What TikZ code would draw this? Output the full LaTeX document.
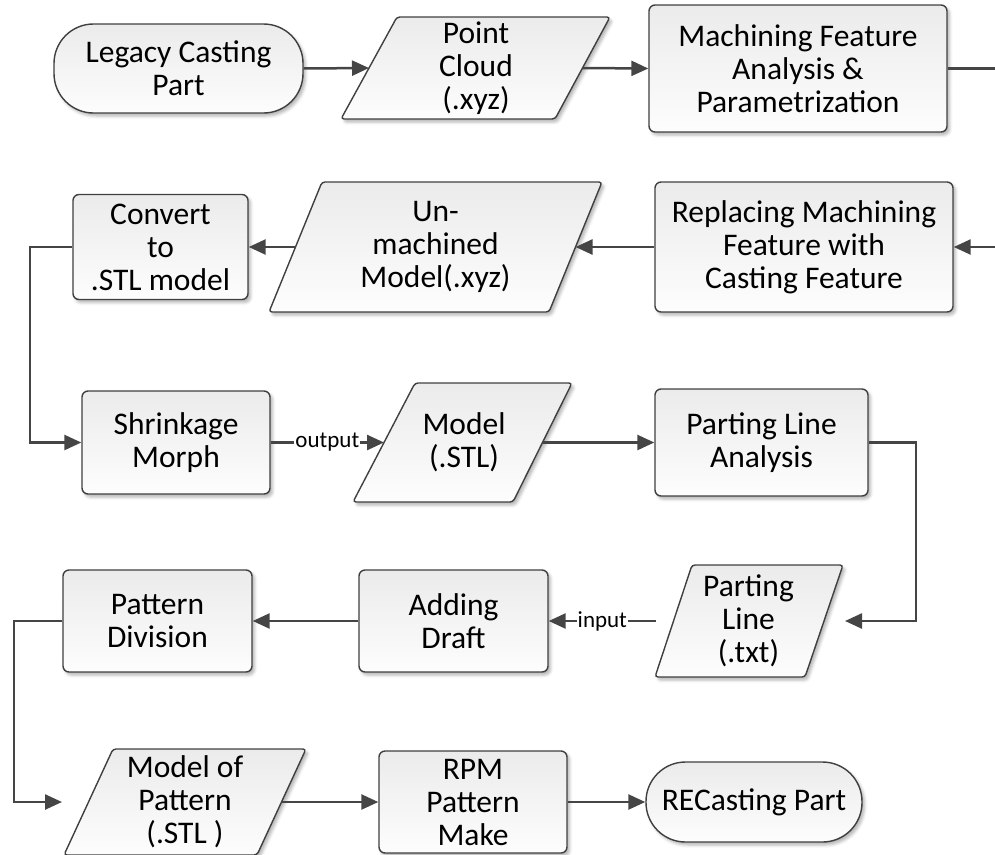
\documentclass[tikz,border=0pt]{standalone}
\usepackage{fontspec}
\setmainfont{Carlito}
\usetikzlibrary{arrows.meta,shadows.blur}

\definecolor{edgegray}{HTML}{404040}
\definecolor{wiregray}{HTML}{454545}
\definecolor{filltop}{HTML}{EBEBEB}
\definecolor{fillbot}{HTML}{FDFDFD}

\newcommand\flowtext{\fontsize{31.5}{33}\selectfont}
\newcommand\tagtext{\fontsize{23}{26}\selectfont}

\tikzset{
  shapefill/.style={draw=edgegray, line width=1.4pt, top color=filltop, bottom color=fillbot,
    blur shadow={shadow xshift=2.5pt, shadow yshift=-3pt, shadow blur radius=3pt, shadow opacity=30}},
  procbox/.style={shapefill, rectangle, rounded corners=6pt, inner sep=0pt, align=center, font=\flowtext},
  terminal/.style={shapefill, rectangle, rounded corners=39.5pt, inner sep=0pt, align=center, font=\flowtext},
  slabtext/.style={inner sep=0pt, align=center, font=\flowtext},
  tag/.style={font=\tagtext, fill=white, inner sep=1pt},
  wire/.style={draw=wiregray, line width=2.5pt},
  flow/.style={wire, -{Triangle[length=17pt,width=15pt]}}
}

% data (parallelogram) shape: name, top-left x, top-right x, bottom-left x,
% bottom-right x, top y, bottom y, text
\newcommand\dataslab[8]{%
  \path[shapefill, rounded corners=3pt] (#2,#6) -- (#3,#6) -- (#5,#7) -- (#4,#7) -- cycle;
  \node[slabtext] (#1) at ({(#2+#5)/2},{(#6+#7)/2}) {#8};
  \coordinate (#1-w) at ({(#2+#4)/2},{(#6+#7)/2});
  \coordinate (#1-e) at ({(#3+#5)/2},{(#6+#7)/2});
}

\begin{document}
\begin{tikzpicture}[x=1pt, y=-1pt]
\useasboundingbox (0,0) rectangle (995,854);
\clip (0,0) rectangle (995,854);

% row 1
\node[terminal, minimum width=249pt, minimum height=89pt] (legacy) at (178.5,68.5) {Legacy Casting\\Part};
\dataslab{cloud}{397}{610}{341}{555}{17}{119}{Point\\Cloud\\(.xyz)}
\node[procbox, minimum width=298pt, minimum height=127pt] (mfa) at (798,68.5) {Machining Feature\\Analysis \&\\Parametrization};
\coordinate (r1) at (995,68.5);

% row 2
\coordinate (r2) at (995,247);
\node[procbox, minimum width=298pt, minimum height=130pt] (rep) at (804,247) {Replacing Machining\\Feature with\\Casting Feature};
\dataslab{unm}{322}{602}{269}{549}{182}{312}{Un-\\machined\\Model(.xyz)}
\node[procbox, minimum width=175pt, minimum height=105pt] (conv) at (160.5,247) {Convert\\to\\.STL model};

% row 3
\node[procbox, minimum width=188pt, minimum height=103pt] (shr) at (176,442.5) {Shrinkage\\Morph};
\dataslab{stl}{415}{572}{353}{513}{383}{502}{Model\\(.STL)}
\node[procbox, minimum width=213pt, minimum height=107pt] (pla) at (761.5,442.5) {Parting Line\\Analysis};

% row 4
\dataslab{ptxt}{692}{843}{655}{805}{565}{677}{Parting\\Line\\(.txt)}
\coordinate (ptxt-w) at (656,621);
\coordinate (ptxt-e) at (845,621);
\node[procbox, minimum width=189pt, minimum height=102pt] (add) at (453.5,621) {Adding\\Draft};
\node[procbox, minimum width=189pt, minimum height=102pt] (pdiv) at (157.5,621) {Pattern\\Division};

% row 5
\dataslab{mop}{113}{306}{64}{257}{749}{855}{Model of\\Pattern\\(.STL )}
\coordinate (mop-w) at (62,802);
\node[procbox, minimum width=188pt, minimum height=102pt] (rpm) at (473,802) {RPM\\Pattern\\Make};
\node[terminal, minimum width=216pt, minimum height=80pt] (rec) at (754,802) {RECasting Part};

% bend points of the return connectors
\coordinate (bend1) at (30,345);
\coordinate (bend2) at (916,530);
\coordinate (bend3) at (14,710);

% connectors
\draw[flow] (legacy.east) -- (cloud-w);
\draw[flow] (cloud-e) -- (mfa.west);
\draw[wire] (mfa.east) -- (r1);
\draw[flow] (r2) -- (rep.east);
\draw[flow] (rep.west) -- (unm-e);
\draw[flow] (unm-w) -- (conv.east);
\draw[flow] (conv.west) -| (bend1) |- (shr.west);
\draw[flow] (shr.east) -- node[tag] {output} (stl-w);
\draw[flow] (stl-e) -- (pla.west);
\draw[flow] (pla.east) -| (bend2) |- (ptxt-e);
\draw[flow] (ptxt-w) -- node[tag] {input} (add.east);
\draw[flow] (add.west) -- (pdiv.east);
\draw[flow] (pdiv.west) -| (bend3) |- (mop-w);
\draw[flow] (mop-e) -- (rpm.west);
\draw[flow] (rpm.east) -- (rec.west);
\end{tikzpicture}
\end{document}
